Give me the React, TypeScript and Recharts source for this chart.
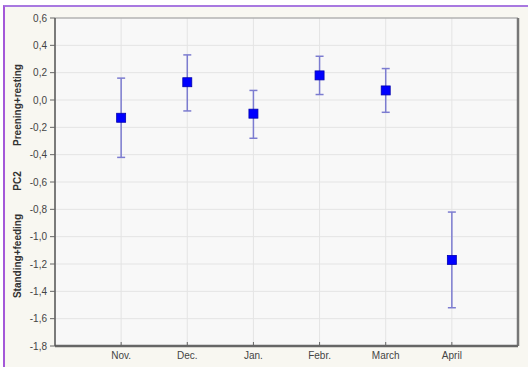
import { ComposedChart, Scatter, ErrorBar, CartesianGrid, XAxis, YAxis, ReferenceLine } from 'recharts';

const months = ['Nov.', 'Dec.', 'Jan.', 'Febr.', 'March', 'April'];
const means = [-0.13, 0.13, -0.1, 0.18, 0.07, -1.17];
const upper = [0.16, 0.33, 0.07, 0.32, 0.23, -0.82];
const lower = [-0.42, -0.08, -0.28, 0.04, -0.09, -1.52];
const yTicks = [-1.8, -1.6, -1.4, -1.2, -1.0, -0.8, -0.6, -0.4, -0.2, 0.0, 0.2, 0.4, 0.6];

const data = months.map((m, i) => ({
    x: i + 1,
    y: means[i],
    err: [means[i] - lower[i], upper[i] - means[i]],
}));

const fmtY = (v: number) => v.toFixed(1).replace('.', ',');

const Square = (props: any) => {
    const { cx, cy } = props;
    return <rect x={cx - 4.5} y={cy - 4.5} width={9} height={9} fill="#0000ff" stroke="#0000b0" strokeWidth={0.8} />;
};

const labelStyle: any = {
    position: 'absolute',
    left: 17,
    transform: 'translate(-50%, -50%) rotate(-90deg)',
    whiteSpace: 'nowrap',
    fontFamily: 'Liberation Sans, Arial, sans-serif',
    fontWeight: 'bold',
    fontSize: 10,
    color: '#333',
};

export default function App() {
    return (
        <div style={{ position: 'absolute', left: 0, top: 0, width: 528, height: 367, background: '#ffffff' }}>
            <div style={{ position: 'absolute', left: 3, top: 5, width: 525, height: 362, background: '#f8f7f1', borderLeft: '2px solid #a458d8', borderTop: '2px solid #a878e0', boxSizing: 'border-box' }} />
            <div style={{ position: 'absolute', left: 0, top: 0 }}>
                <ComposedChart width={528} height={367} data={data} margin={{ top: 18, right: 10, bottom: 0, left: 0 }}
                    style={{ fontFamily: 'Liberation Sans, Arial, sans-serif' }}>
                    <CartesianGrid stroke="#e4e4e4" fill="#f8f8f8" />
                    <XAxis dataKey="x" type="number" domain={[0, 7]} ticks={[1, 2, 3, 4, 5, 6]} interval={0}
                        tickFormatter={(v: number) => months[v - 1]} height={21}
                        axisLine={{ stroke: '#666', strokeWidth: 2.5 }} tickLine={{ stroke: '#666' }}
                        tickSize={-4} tickMargin={10} tick={{ fontSize: 10, fill: '#444' }} />
                    <YAxis type="number" domain={[-1.8, 0.6]} ticks={yTicks} interval={0} tickFormatter={fmtY}
                        width={55} axisLine={{ stroke: '#555', strokeWidth: 1.5 }} tickLine={{ stroke: '#666' }}
                        tickSize={5} tickMargin={3} tick={{ fontSize: 10, fill: '#444' }} />
                    <ReferenceLine y={0.6} stroke="#999" strokeWidth={1.2} />
                    <ReferenceLine x={7} stroke="#777" strokeWidth={2.5} />
                    <Scatter dataKey="y" shape={<Square />} isAnimationActive={false}>
                        <ErrorBar dataKey="err" direction="y" width={4} stroke="#7c7cd0" strokeWidth={1.5} />
                    </Scatter>
                </ComposedChart>
            </div>
            <div style={{ ...labelStyle, top: 105 }}>Preening+resting</div>
            <div style={{ ...labelStyle, top: 181 }}>PC2</div>
            <div style={{ ...labelStyle, top: 256 }}>Standing+feeding</div>
        </div>
    );
}
